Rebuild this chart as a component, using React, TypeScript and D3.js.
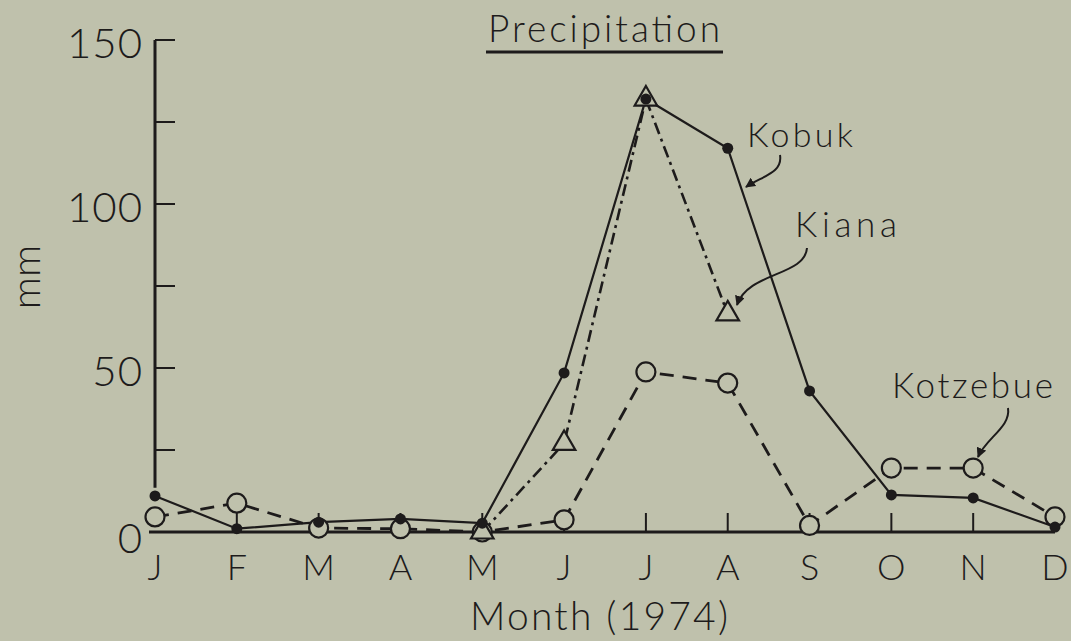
import * as React from 'react';
import * as d3 from 'd3';

// monthly precipitation, 1974 (mm)
const months = ['J', 'F', 'M', 'A', 'M', 'J', 'J', 'A', 'S', 'O', 'N', 'D'];
const kobuk = [11, 1, 3, 4, 2.7, 48.5, 132, 117, 43, 11.3, 10.4, 1.5];
const kiana = [null, null, null, null, 0, 27, 132, 66.5, null, null, null, null];
const kotzebue = [4.6, 8.8, 1.2, 1, 0, 3.7, 48.8, 45.4, 2, 19.5, 19.5, 4.6];
const yTickLabels = [0, 50, 100, 150];
const yTicks = [25, 50, 75, 100, 125, 150];

const BG = '#bfc1ac';
const INK = '#1d1b1b';
const FONT = "Lato, 'Open Sans', sans-serif";
const WEIGHT = 300;

export default function App() {
  const ref = React.useRef<SVGSVGElement>(null);

  React.useEffect(() => {
    const svg = d3.select(ref.current);
    svg.selectAll('*').remove();

    const x = d3.scaleLinear().domain([0, 11]).range([155, 1055]);
    const y = d3.scaleLinear().domain([0, 150]).range([532, 40]);

    svg.append('rect').attr('width', 1071).attr('height', 641).attr('fill', BG);

    const defs = svg.append('defs');
    defs.append('marker')
      .attr('id', 'arrow')
      .attr('viewBox', '0 0 10 10')
      .attr('refX', 9).attr('refY', 5)
      .attr('markerWidth', 5).attr('markerHeight', 5)
      .attr('orient', 'auto')
      .append('path')
      .attr('d', 'M0,0 L10,5 L0,10 z')
      .attr('fill', INK);

    // x axis baseline and month ticks
    svg.append('line')
      .attr('x1', x(0) - 6).attr('x2', x(11))
      .attr('y1', y(0)).attr('y2', y(0))
      .attr('stroke', INK).attr('stroke-width', 3);
    svg.selectAll('.xtick').data(months.slice(1)).enter()
      .append('line')
      .attr('x1', (d, i) => x(i + 1)).attr('x2', (d, i) => x(i + 1))
      .attr('y1', y(0)).attr('y2', y(0) - 19)
      .attr('stroke', INK).attr('stroke-width', 2);
    svg.selectAll('.mlabel').data(months).enter()
      .append('text')
      .attr('x', (d, i) => x(i))
      .attr('y', 580)
      .attr('text-anchor', 'middle')
      .attr('font-family', FONT)
      .attr('font-weight', WEIGHT)
      .attr('font-size', 36)
      .attr('fill', INK)
      .text(d => d);

    // y axis
    svg.append('line')
      .attr('x1', x(0)).attr('x2', x(0))
      .attr('y1', y(150)).attr('y2', y(13.5))
      .attr('stroke', INK).attr('stroke-width', 3);
    svg.selectAll('.ytick').data(yTicks).enter()
      .append('line')
      .attr('x1', x(0)).attr('x2', x(0) + 20)
      .attr('y1', d => y(d)).attr('y2', d => y(d))
      .attr('stroke', INK).attr('stroke-width', 2);
    svg.selectAll('.ylabel').data(yTickLabels).enter()
      .append('text')
      .attr('x', 143)
      .attr('y', d => y(d) + (d === 0 ? 5 : 2))
      .attr('dominant-baseline', 'central')
      .attr('text-anchor', 'end')
      .attr('font-family', FONT)
      .attr('font-weight', WEIGHT)
      .attr('font-size', 42)
      .attr('letter-spacing', 1)
      .attr('fill', INK)
      .text(d => d);

    svg.append('text')
      .attr('transform', 'translate(25,277) rotate(-90)')
      .attr('text-anchor', 'middle')
      .attr('dominant-baseline', 'central')
      .attr('font-family', FONT)
      .attr('font-weight', WEIGHT)
      .attr('font-size', 40)
      .attr('fill', INK)
      .text('mm');

    svg.append('text')
      .attr('x', 470).attr('y', 630)
      .attr('textLength', 258)
      .attr('lengthAdjust', 'spacing')
      .attr('font-family', FONT)
      .attr('font-weight', WEIGHT)
      .attr('font-size', 39)
      .attr('fill', INK)
      .text('Month (1974)');

    // title
    svg.append('text')
      .attr('x', 488).attr('y', 42)
      .attr('textLength', 232)
      .attr('lengthAdjust', 'spacing')
      .attr('font-family', FONT)
      .attr('font-weight', WEIGHT)
      .attr('font-size', 37)
      .attr('fill', INK)
      .text('Precipitation');
    svg.append('line')
      .attr('x1', 486).attr('x2', 723)
      .attr('y1', 52).attr('y2', 52)
      .attr('stroke', INK).attr('stroke-width', 3);

    const line = d3.line<number | null>()
      .defined(d => d !== null)
      .x((d, i) => x(i))
      .y(d => y(d as number));

    svg.append('path').attr('d', line(kotzebue))
      .attr('fill', 'none').attr('stroke', INK)
      .attr('stroke-width', 2.8).attr('stroke-dasharray', '14,9');
    svg.append('path').attr('d', line(kiana))
      .attr('fill', 'none').attr('stroke', INK)
      .attr('stroke-width', 2.6).attr('stroke-dasharray', '12,5,3,5');
    svg.append('path').attr('d', line(kobuk))
      .attr('fill', 'none').attr('stroke', INK)
      .attr('stroke-width', 2.2);

    // markers
    svg.selectAll('.kotz').data(kotzebue).enter()
      .append('circle')
      .attr('cx', (d, i) => x(i)).attr('cy', d => y(d))
      .attr('r', 9.5)
      .attr('fill', BG).attr('stroke', INK).attr('stroke-width', 2.2);
    const tri = d3.symbol().type(d3.symbolTriangle).size(220);
    svg.selectAll('.kiana').data(kiana.map((v, i) => [i, v]).filter(d => d[1] !== null)).enter()
      .append('path')
      .attr('d', tri)
      .attr('transform', d => `translate(${x(d[0] as number)},${y(d[1] as number)})`)
      .attr('fill', BG).attr('stroke', INK).attr('stroke-width', 2.2);
    svg.selectAll('.kobuk').data(kobuk).enter()
      .append('circle')
      .attr('cx', (d, i) => x(i)).attr('cy', d => y(d))
      .attr('r', 5.5)
      .attr('fill', INK);

    // series labels with arrows
    const labels = [
      { name: 'Kobuk', x: 747, y: 147, len: 106, size: 34, arrow: 'M780,155 C783,173 762,176 746,187' },
      { name: 'Kiana', x: 795, y: 237, len: 102, size: 35, arrow: 'M807,248 C805,276 748,272 737,305' },
      { name: 'Kotzebue', x: 892, y: 398, len: 161, size: 35, arrow: 'M1008,408 C1011,427 986,438 978,457' },
    ];
    labels.forEach(l => {
      svg.append('text')
        .attr('x', l.x).attr('y', l.y)
        .attr('textLength', l.len)
        .attr('lengthAdjust', 'spacing')
        .attr('font-family', FONT)
        .attr('font-weight', WEIGHT)
        .attr('font-size', l.size)
        .attr('fill', INK)
        .text(l.name);
      svg.append('path')
        .attr('d', l.arrow)
        .attr('fill', 'none').attr('stroke', INK).attr('stroke-width', 2)
        .attr('marker-end', 'url(#arrow)');
    });
  }, []);

  return (
    <svg
      ref={ref}
      width={1071}
      height={641}
      style={{ position: 'absolute', left: 0, top: 0, display: 'block' }}
    />
  );
}
